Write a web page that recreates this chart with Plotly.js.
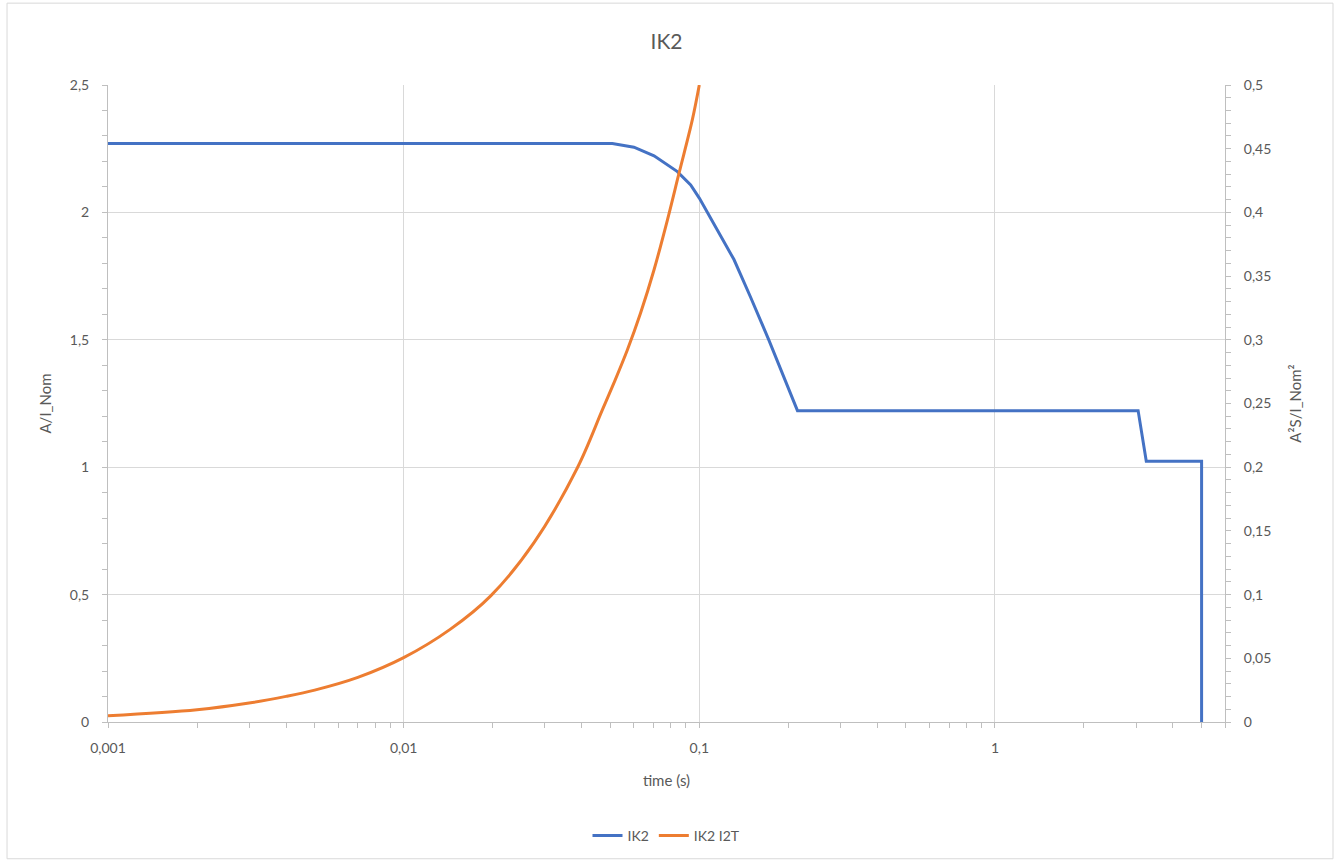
<!DOCTYPE html>
<html>
<head>
<meta charset="utf-8">
<script src="https://cdn.plot.ly/plotly-3.0.1.min.js"></script>
<style>html,body{margin:0;padding:0;background:#fff;}#chart{width:1337px;height:863px;}</style>
</head>
<body>
<div id="chart"></div>
<script>
// IK2 current curve (A/I_Nom) vs time (s)
const ik2Time = [0.001, 0.0508, 0.0601, 0.0703, 0.0843, 0.0935, 0.1, 0.1122, 0.131, 0.149, 0.1718, 0.2148, 3.05, 3.25, 5, 5];
const ik2Value = [2.27, 2.27, 2.256, 2.222, 2.160, 2.108, 2.056, 1.955, 1.815, 1.668, 1.50, 1.222, 1.222, 1.023, 1.023, 0];
// IK2 I2T (A²S/I_Nom²) vs time (s)
const i2tTime = [0.001, 0.002, 0.003, 0.004, 0.005, 0.007, 0.01, 0.0144, 0.0197, 0.0276, 0.0387, 0.0470, 0.0514, 0.0571, 0.0633, 0.0703, 0.078, 0.0854, 0.0947, 0.1];
const i2tValue = [0.00494, 0.00964, 0.0149, 0.0201, 0.0250, 0.035, 0.0505, 0.0729, 0.099, 0.1408, 0.1996, 0.245, 0.266, 0.292, 0.321, 0.355, 0.394, 0.4308, 0.4726, 0.5];

const xTickVals = [0.001, 0.01, 0.1, 1];
const xTickText = ['0,001', '0,01', '0,1', '1'];
const yTickVals = [0, 0.5, 1, 1.5, 2, 2.5];
const yTickText = ['0', '0,5', '1', '1,5', '2', '2,5'];
const y2TickVals = [0, 0.05, 0.1, 0.15, 0.2, 0.25, 0.3, 0.35, 0.4, 0.45, 0.5];
const y2TickText = ['0', '0,05', '0,1', '0,15', '0,2', '0,25', '0,3', '0,35', '0,4', '0,45', '0,5'];

const minorX = [];
[0.001, 0.01, 0.1, 1].forEach(d => { for (let k = 2; k <= 9; k++) { if (d * k <= 6) minorX.push(d * k); } });

const txt = '#595959', axisCol = '#bfbfbf', gridCol = '#d9d9d9';
const FONT = 'Lato, "Open Sans", sans-serif';
const xr = [Math.log10(0.001), Math.log10(6)];

const traces = [
  {x: ik2Time, y: ik2Value, name: 'IK2', type: 'scatter', mode: 'lines',
   line: {color: '#4472C4', width: 3}, xaxis: 'x', yaxis: 'y'},
  {x: i2tTime, y: i2tValue, name: 'IK2 I2T', type: 'scatter', mode: 'lines',
   line: {color: '#ED7D31', width: 3, shape: 'spline', smoothing: 1}, xaxis: 'x', yaxis: 'y2'}
];

const layout = {
  width: 1337, height: 863,
  margin: {l: 108, r: 112, t: 85, b: 140},
  paper_bgcolor: '#fff', plot_bgcolor: '#fff',
  font: {family: FONT, color: txt, size: 14},
  title: {text: 'IK2', x: 0.5, xref: 'paper', y: 0.952, yanchor: 'middle', font: {size: 21, color: txt, family: FONT}},
  showlegend: true,
  legend: {orientation: 'h', x: 0.5, xanchor: 'center', y: -0.177, yanchor: 'middle', font: {size: 14, color: txt}},
  xaxis: {type: 'log', range: xr, tickvals: xTickVals, ticktext: xTickText,
    showgrid: true, gridcolor: gridCol, gridwidth: 1, showline: true, linecolor: axisCol, linewidth: 1,
    ticks: 'outside', ticklen: 5, tickcolor: axisCol, zeroline: false, ticklabelstandoff: 8,
    minor: {tickvals: minorX, ticks: 'outside', ticklen: 5, tickcolor: axisCol, showgrid: false},
    tickfont: {size: 14, color: txt},
    title: {text: 'time (s)', font: {size: 15, color: txt}, standoff: 20}},
  yaxis: {range: [0, 2.5], tickvals: yTickVals, ticktext: yTickText,
    showgrid: true, gridcolor: gridCol, showline: true, linecolor: axisCol, ticks: 'outside', ticklen: 5, tickcolor: axisCol,
    zeroline: false, ticklabelstandoff: 10, minor: {dtick: 0.1, ticks: 'outside', ticklen: 5, tickcolor: axisCol, showgrid: false},
    tickfont: {size: 14, color: txt},
    title: {text: 'A/I_Nom', font: {size: 15, color: txt}, standoff: 14}},
  yaxis2: {range: [0, 0.5], overlaying: 'y', side: 'right', tickvals: y2TickVals, ticktext: y2TickText,
    showgrid: false, showline: true, linecolor: axisCol, ticks: 'outside', ticklen: 5, tickcolor: axisCol,
    zeroline: false, ticklabelstandoff: 10, minor: {dtick: 0.01, ticks: 'outside', ticklen: 5, tickcolor: axisCol, showgrid: false},
    tickfont: {size: 14, color: txt},
    title: {text: 'A²S/I_Nom²', font: {size: 15, color: txt}, standoff: 20}},
  xaxis3: {type: 'log', range: xr, overlaying: 'x', anchor: 'y', showgrid: false, showline: false, zeroline: false,
    showticklabels: false, ticks: 'inside', ticklen: 5, tickcolor: axisCol, tickvals: xTickVals,
    minor: {tickvals: minorX, ticks: 'inside', ticklen: 5, tickcolor: axisCol, showgrid: false}},
  yaxis3: {range: [0, 2.5], overlaying: 'y', anchor: 'x', showgrid: false, showline: false, zeroline: false,
    showticklabels: false, ticks: 'inside', ticklen: 5, tickcolor: axisCol, tickvals: yTickVals,
    minor: {dtick: 0.1, ticks: 'inside', ticklen: 5, tickcolor: axisCol, showgrid: false}},
  yaxis4: {range: [0, 0.5], overlaying: 'y', side: 'right', anchor: 'x', showgrid: false, showline: false, zeroline: false,
    showticklabels: false, ticks: 'inside', ticklen: 5, tickcolor: axisCol, tickvals: y2TickVals,
    minor: {dtick: 0.01, ticks: 'inside', ticklen: 5, tickcolor: axisCol, showgrid: false}},
  shapes: [{type: 'rect', xref: 'paper', yref: 'paper', x0: -0.0904, x1: 1.0967, y0: -0.2147, y1: 1.1285,
    line: {color: gridCol, width: 1}, fillcolor: 'rgba(0,0,0,0)', layer: 'below'}]
};

Plotly.newPlot('chart', traces, layout, {displayModeBar: false, staticPlot: true});
</script>
</body>
</html>
